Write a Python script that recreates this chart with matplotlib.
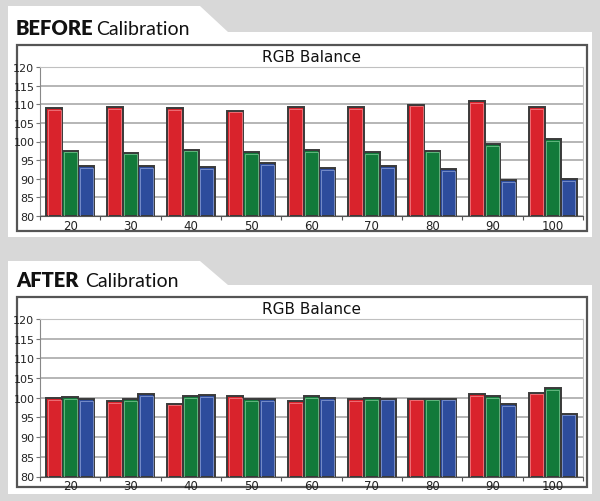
import numpy as np
import matplotlib.pyplot as plt
from matplotlib.patches import Polygon, Rectangle

# 数据：灰阶等级与校准前后的RGB平衡值
levels = ['20', '30', '40', '50', '60', '70', '80', '90', '100']
before_red = [108.9, 109.2, 108.9, 108.3, 109.2, 109.2, 109.9, 110.8, 109.2]
before_green = [97.5, 97.0, 97.8, 97.2, 97.7, 97.2, 97.5, 99.2, 100.6]
before_blue = [93.4, 93.4, 93.2, 94.2, 92.8, 93.3, 92.6, 89.7, 89.8]
after_red = [100.0, 99.1, 98.5, 100.5, 99.1, 99.7, 99.8, 101.0, 101.3]
after_green = [100.1, 99.7, 100.4, 99.6, 100.4, 100.0, 99.8, 100.5, 102.4]
after_blue = [99.7, 100.9, 100.7, 99.7, 100.0, 99.8, 99.8, 98.4, 96.0]
y_ticks = [80, 85, 90, 95, 100, 105, 110, 115, 120]

W, H = 600, 502
colors = ['#d9232c', '#127a3a', '#2d4c9c']
highlights = ['#f07a80', '#6fc08a', '#8096d0']


def px(x, y):
    # 像素坐标转换为figure坐标
    return x / W, 1 - y / H


fig = plt.figure(figsize=(6, 5.02), dpi=100)
fig.patch.set_facecolor('#d8d8d8')


def panel(top, tab_top, bottom, frame_top, frame_bottom, bold, title_y, cal_x):
    pts = [px(8, tab_top), px(200, tab_top), px(228, top), px(592, top),
           px(592, bottom), px(8, bottom)]
    fig.patches.append(Polygon(pts, closed=True, transform=fig.transFigure,
                               facecolor='white', edgecolor='none', zorder=0))
    x0, y0 = px(17, frame_bottom)
    fig.patches.append(Rectangle((x0, y0), 570 / W, (frame_bottom - frame_top) / H,
                                 transform=fig.transFigure, facecolor='white',
                                 edgecolor='#555555', linewidth=1.6, zorder=0.5))
    bx, by = px(16, title_y)
    fig.text(bx, by, bold, fontsize=14.5, fontweight='heavy', family='Lato',
             color='#111111', va='baseline', ha='left')
    fig.text(cal_x / W, by, 'Calibration', fontsize=14, family='Lato',
             color='#111111', va='baseline', ha='left')


def draw(ax, red, green, blue):
    ax.set_zorder(2)
    ax.set_facecolor('white')
    x = np.arange(len(levels))
    w = 0.265
    for k, (vals, c, hl) in enumerate(zip([red, green, blue], colors, highlights)):
        vals = np.array(vals)
        ax.bar(x + (k - 1) * w, vals - 80, bottom=80, width=w,
               color=c, edgecolor='#3a3a3a', linewidth=1.4, zorder=3)
        # 内侧高光边
        ax.bar(x + (k - 1) * w, vals - 80.45, bottom=80, width=w * 0.8,
               color='none', edgecolor=hl, linewidth=0.6, zorder=4)
    ax.set_xlim(-0.5, len(levels) - 0.5)
    ax.set_ylim(80, 120)
    ax.set_yticks(y_ticks)
    ax.yaxis.grid(True, color='#b0b0b0', linewidth=1.3, zorder=0)
    ax.set_axisbelow(True)
    ax.set_xticks(np.arange(len(levels) + 1) - 0.5)
    ax.set_xticklabels([])
    ax.set_xticks(x, minor=True)
    ax.set_xticklabels(levels, minor=True, fontsize=8.5, color='#222222')
    ax.tick_params(axis='x', which='major', length=3, color='#555555')
    ax.tick_params(axis='x', which='minor', length=0, pad=2)
    ax.tick_params(axis='y', length=3, color='#777777', labelsize=8,
                   labelcolor='#222222', pad=1)
    for s in ['top', 'right']:
        ax.spines[s].set_color('#c0c0c0')
    ax.spines['left'].set_color('#888888')
    ax.spines['bottom'].set_color('#555555')
    ax.set_title('RGB Balance', fontsize=11, color='#111111', pad=4)


panel(33, 7, 238, 46, 232, 'BEFORE', 35, 96)
panel(286, 262, 495, 298, 488, 'AFTER', 287, 85)

ax1 = fig.add_axes([40 / W, 1 - 217 / H, 543 / W, 149 / H])
draw(ax1, before_red, before_green, before_blue)
ax2 = fig.add_axes([40 / W, 1 - 477.5 / H, 543 / W, 157.5 / H])
draw(ax2, after_red, after_green, after_blue)

fig.savefig('out.png', dpi=100, facecolor=fig.get_facecolor())
